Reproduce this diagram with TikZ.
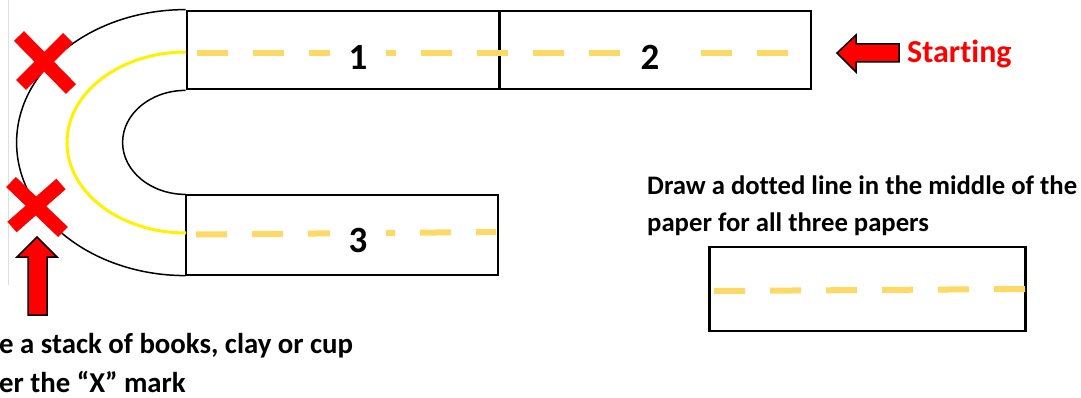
\documentclass[tikz,border=0pt]{standalone}
\usepackage{fontspec}
\setmainfont{Carlito}[Ligatures=NoCommon]
\usepackage{tikz}
\definecolor{dashgold}{HTML}{FFD966}
\definecolor{markred}{HTML}{FF0000}

\begin{document}
\begin{tikzpicture}[x=1pt,y=-1pt,
  paper/.style={draw=black, line width=2.8pt, inner sep=0pt},
  midline/.style={dashgold, line width=6pt, dash pattern=on 31pt off 25pt},
  num/.style={fill=white, inner sep=0pt, minimum width=56pt, minimum height=30pt, font=\fontsize{37}{37}\selectfont\bfseries},
  xmark/.style={markred, line width=14pt},
  redarrow/.style={fill=markred, draw=black, line width=1.5pt, line join=miter},
  note/.style={anchor=base west, inner sep=0pt, font=\fontsize{26.7}{30}\selectfont\bfseries}]
\useasboundingbox (0,0) rectangle (1081,398);
\draw[gray!25, line width=1pt] (8,0) -- (8,285);
% papers
\node[paper, minimum width=312pt, minimum height=78pt] (paper1) at (343,50) {};
\node[paper, minimum width=311pt, minimum height=78pt] (paper2) at (655.5,50) {};
\node[paper, minimum width=312pt, minimum height=80pt] (paper3) at (342,235) {};
\node[paper, minimum width=316pt, minimum height=84pt] (sample) at (867.5,289) {};
% curve
\draw[line width=1.5pt] (paper1.north west) arc[start angle=270, end angle=90, x radius=169, y radius=133];
\draw[line width=1.5pt] (paper1.south west) arc[start angle=270, end angle=90, x radius=63, y radius=52];
\draw[yellow, line width=3pt] (186,52) arc[start angle=270, end angle=90, x radius=119, y radius=90.5];
% middle lines
\draw[midline] (197,53) -- (792,53);
\draw[midline] (196,234.5) -- (496,232);
\draw[midline] (714,291) -- (1026,289);
\node[num] (one) at (358,57) {1};
\node[num] (two) at (650,57) {2};
\node[num] (three) at (358,240) {3};
% marks
\draw[redarrow] (37,237) -- (57,257) -- (47,257) -- (47,315) -- (28,315) -- (28,257) -- (17,257) -- cycle;
\draw[xmark] (19,36) -- (71,89);
\draw[xmark] (68,38) -- (21,85);
\draw[xmark] (11,182) -- (63,232);
\draw[xmark] (61,184) -- (12,227);
\draw[redarrow] (837,53) -- (856,35) -- (856,44) -- (899,44) -- (899,62) -- (856,62) -- (856,72) -- cycle;
% texts
\node[note, text=markred, font=\fontsize{32}{32}\selectfont\bfseries] (start) at (907,63) {Starting};
\node[note] (draw1) at (647,194) {Draw a dotted line in the middle of the};
\node[note] (draw2) at (647,231) {paper for all three papers};
\node[note, font=\fontsize{28.8}{32}\selectfont\bfseries] (place1) at (-1,353) {e a stack of books, clay or cup};
\node[note, font=\fontsize{28.8}{32}\selectfont\bfseries] (place2) at (-1,392) {er the “X” mark};
\end{tikzpicture}
\end{document}
